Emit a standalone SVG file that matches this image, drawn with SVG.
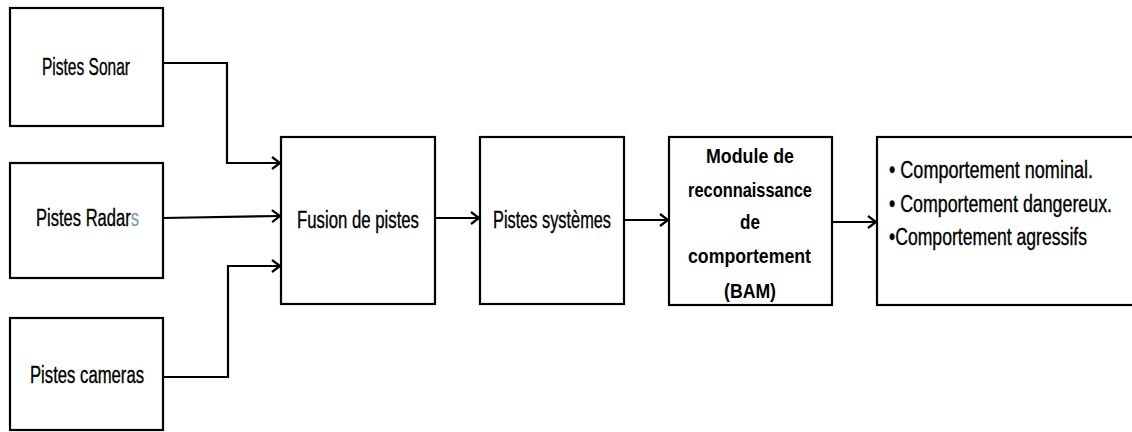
<svg xmlns="http://www.w3.org/2000/svg" width="1132" height="432" viewBox="0 0 1132 432">
<defs>
<marker id="arr" markerWidth="12" markerHeight="14" refX="10" refY="7" orient="auto" markerUnits="userSpaceOnUse">
<polyline points="2,1 10,7 2,13" fill="none" stroke="#000" stroke-width="2.2"/>
</marker>
<style>
.box{fill:#fff;stroke:#000;stroke-width:2.2}
.t{font-family:"Liberation Sans",Arial,sans-serif;font-size:23px;fill:#000;stroke:#000;stroke-width:0.35}
.b{font-family:"Liberation Sans",Arial,sans-serif;font-size:20px;font-weight:bold;fill:#000}
.c{fill:none;stroke:#000;stroke-width:2.2}
</style>
</defs>
<rect width="1132" height="432" fill="#fff"/>
<g id="sonar"><rect class="box" x="10" y="8" width="153" height="118"/><text class="t" x="42" y="75" textLength="88" lengthAdjust="spacingAndGlyphs">Pistes Sonar</text></g>
<g id="radar"><rect class="box" x="10" y="163" width="153" height="115"/><text class="t" x="36" y="226" textLength="103" lengthAdjust="spacingAndGlyphs">Pistes Radar<tspan fill="#7f9fc4" stroke="#7f9fc4">s</tspan></text></g>
<g id="cameras"><rect class="box" x="10" y="318" width="153" height="112"/><text class="t" x="30" y="383" textLength="114" lengthAdjust="spacingAndGlyphs">Pistes cameras</text></g>
<g id="fusion"><rect class="box" x="281" y="137" width="154" height="167"/><text class="t" x="297" y="228" textLength="122" lengthAdjust="spacingAndGlyphs">Fusion de pistes</text></g>
<g id="systemes"><rect class="box" x="480" y="137" width="144" height="167"/><text class="t" x="493" y="228" textLength="118" lengthAdjust="spacingAndGlyphs">Pistes systèmes</text></g>
<g id="module"><rect class="box" x="669" y="137" width="163" height="168"/>
<text class="b" x="706" y="163" textLength="88" lengthAdjust="spacingAndGlyphs">Module de</text>
<text class="b" x="688" y="197" textLength="124" lengthAdjust="spacingAndGlyphs">reconnaissance</text>
<text class="b" x="740" y="229" textLength="20" lengthAdjust="spacingAndGlyphs">de</text>
<text class="b" x="688" y="263" textLength="123" lengthAdjust="spacingAndGlyphs">comportement</text>
<text class="b" x="724" y="298" textLength="52" lengthAdjust="spacingAndGlyphs">(BAM)</text>
</g>
<g id="comportements"><rect class="box" x="877" y="137" width="265" height="168"/>
<text class="t" x="889" y="178" textLength="204" lengthAdjust="spacingAndGlyphs">• Comportement nominal.</text>
<text class="t" x="889" y="212" textLength="223" lengthAdjust="spacingAndGlyphs">• Comportement dangereux.</text>
<text class="t" x="889" y="245" textLength="198" lengthAdjust="spacingAndGlyphs">•Comportement agressifs</text>
</g>
<g id="connectors">
<polyline class="c" points="163,63 227,63 227,163 280,163" marker-end="url(#arr)"/>
<line class="c" x1="163" y1="218" x2="280" y2="216" marker-end="url(#arr)"/>
<polyline class="c" points="163,377 228,377 228,266 280,266" marker-end="url(#arr)"/>
<line class="c" x1="435" y1="218" x2="479" y2="218" marker-end="url(#arr)"/>
<line class="c" x1="624" y1="220" x2="668" y2="220" marker-end="url(#arr)"/>
<line class="c" x1="832" y1="222" x2="876" y2="222" marker-end="url(#arr)"/>
</g>
</svg>
